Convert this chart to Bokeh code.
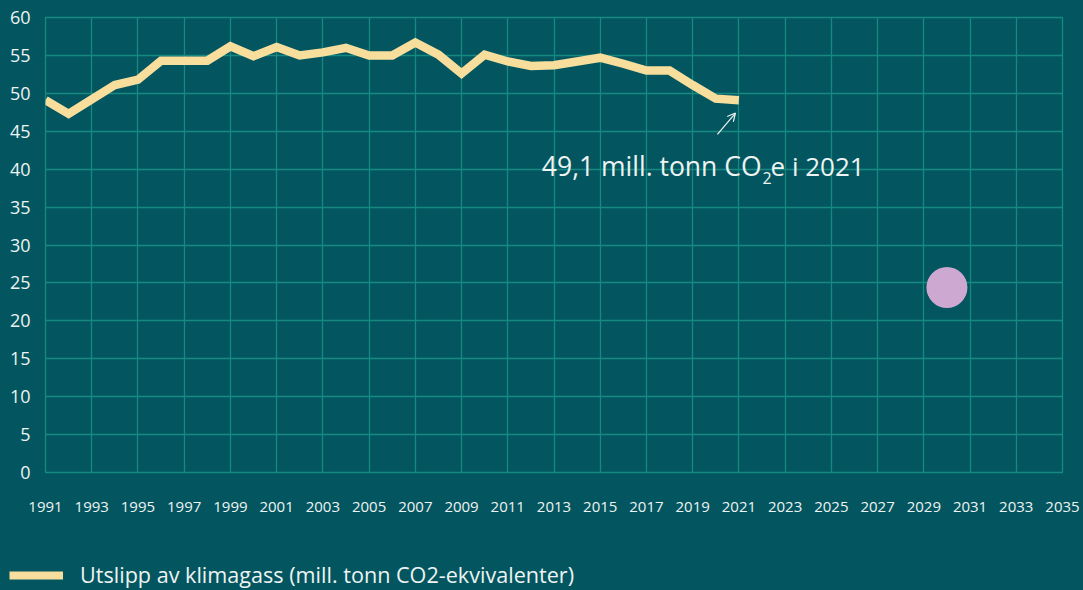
from bokeh.plotting import figure
from bokeh.layouts import column
from bokeh.models import (FixedTicker, Label, Arrow, OpenHead, Legend, LegendItem,
                          Range1d)
from bokeh.embed import file_html
from bokeh.resources import INLINE

# ---- data ----
years = list(range(1991, 2022))
emissions = [49.1, 47.3, 49.2, 51.1, 51.8, 54.3, 54.3, 54.3, 56.2, 54.9,
             56.1, 55.0, 55.4, 56.0, 55.0, 55.0, 56.7, 55.1, 52.6, 55.1,
             54.2, 53.6, 53.7, 54.2, 54.7, 53.9, 53.0, 53.0, 51.1, 49.3, 49.1]
target_year = [2030]
target_value = [24.4]
x_ticks = list(range(1991, 2036, 2))
y_ticks = list(range(0, 61, 5))
series_label = "Utslipp av klimagass (mill. tonn CO2-ekvivalenter)"

BG = "#03565F"
GRID = "#168A80"
LINE = "#F8DE9C"
DOT = "#CDA8D1"
TXT = "#EEF3F3"
FONT = "Open Sans"

main = figure(width=1083, height=540, output_backend="svg", toolbar_location=None,
              x_range=Range1d(1991, 2035), y_range=Range1d(0, 60),
              min_border_left=45, min_border_right=21, min_border_top=17,
              min_border_bottom=68, frame_align=False)
main.background_fill_color = BG
main.border_fill_color = BG
main.outline_line_color = GRID
main.outline_line_width = 1.3

main.xaxis.ticker = FixedTicker(ticks=x_ticks)
main.yaxis.ticker = FixedTicker(ticks=y_ticks)
main.xgrid.ticker = FixedTicker(ticks=x_ticks)
main.ygrid.ticker = FixedTicker(ticks=y_ticks)
for g in (main.xgrid, main.ygrid):
    g.grid_line_color = GRID
    g.grid_line_width = 1.3

for ax in (main.xaxis, main.yaxis):
    ax.axis_line_color = None
    ax.major_tick_line_color = None
    ax.minor_tick_line_color = None
    ax.major_tick_out = 0
    ax.major_tick_in = 0
    ax.major_label_text_font = FONT
    ax.major_label_text_color = TXT
main.xaxis.major_label_text_font_size = "15px"
main.xaxis.major_label_standoff = 29
main.yaxis.major_label_text_font_size = "18px"
main.yaxis.major_label_standoff = 15

main.line(years, emissions, line_color=LINE, line_width=8.5, line_join="miter")
main.scatter(target_year, target_value, size=41, fill_color=DOT, line_color=None)

# annotation
main.add_layout(Arrow(end=OpenHead(size=8, line_color=TXT, line_width=1.2),
                      x_start=2020.07, y_start=44.6, x_end=2020.85, y_end=47.4,
                      line_color=TXT, line_width=1.2))
main.add_layout(Label(x=2021.98, y=40.45, text="49,1 mill. tonn CO", text_align="right",
                      text_baseline="alphabetic", text_font=FONT,
                      text_font_size="26.5px", text_color=TXT))
main.add_layout(Label(x=2022.02, y=38.9, text="2", text_align="left",
                      text_baseline="alphabetic", text_font=FONT,
                      text_font_size="16px", text_color=TXT))
main.add_layout(Label(x=2022.37, y=40.45, text="e i 2021", text_align="left",
                      text_baseline="alphabetic", text_font=FONT,
                      text_font_size="26px", text_color=TXT))

# legend strip
leg = figure(width=1083, height=50, output_backend="svg", toolbar_location=None,
             x_axis_location=None, y_axis_location=None, min_border=0,
             x_range=Range1d(0, 1), y_range=Range1d(0, 1), frame_align=False)
leg.background_fill_color = BG
leg.border_fill_color = BG
leg.outline_line_color = None
leg.grid.visible = False
# same series, drawn outside this strip's view: only its legend swatch shows
proxy = leg.line(years, emissions, line_color=LINE, line_width=8)
legend = Legend(items=[LegendItem(label=series_label, renderers=[proxy])],
                location=(9, 1), orientation="horizontal",
                background_fill_alpha=0, border_line_color=None,
                padding=0, margin=0, glyph_width=54, glyph_height=20,
                label_height=20, label_standoff=17, spacing=0,
                label_text_font=FONT, label_text_font_size="21.6px",
                label_text_color=TXT)
leg.add_layout(legend)

p = column(main, leg, spacing=0, styles={"background-color": BG})
open("out.html", "w").write(file_html(p, INLINE))
